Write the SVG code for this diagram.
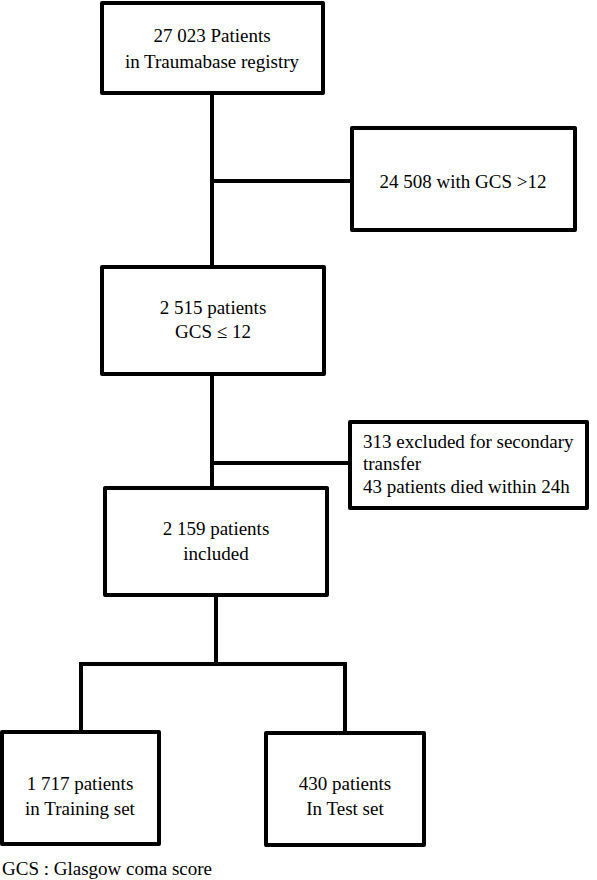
<svg xmlns="http://www.w3.org/2000/svg" width="597" height="880" viewBox="0 0 597 880">
<style>
.box{fill:#fff;stroke:#000;stroke-width:4;stroke-linejoin:round}
.ln{stroke:#000;stroke-width:4;fill:none;stroke-linecap:square}
text{font-family:"Liberation Serif","Times New Roman",serif;font-size:19px;fill:#000}
.c{text-anchor:middle}
</style>
<rect width="597" height="880" fill="#fff"/>
<g id="connectors">
<path class="ln" d="M212 93V488"/>
<path class="ln" d="M212 181H352"/>
<path class="ln" d="M212 463H350"/>
<path class="ln" d="M216 595V664"/>
<path class="ln" d="M81 664H345"/>
<path class="ln" d="M81 664V732"/>
<path class="ln" d="M345 664V733"/>
</g>
<g id="n1"><rect class="box" x="102" y="3" width="221" height="90"/>
<text class="c" x="212" y="42">27 023 Patients</text><text class="c" x="212" y="68">in Traumabase  registry</text></g>
<g id="n2"><rect class="box" x="352" y="128" width="223" height="102"/>
<text class="c" x="463" y="188">24 508  with GCS &gt;12</text></g>
<g id="n3"><rect class="box" x="102" y="267" width="222" height="107"/>
<text class="c" x="213" y="314">2 515 patients</text><text class="c" x="213" y="338">GCS ≤ 12</text></g>
<g id="n4"><rect class="box" x="105" y="488" width="222" height="107"/>
<text class="c" x="216" y="535">2 159 patients</text><text class="c" x="216" y="560">included</text></g>
<g id="n5"><rect class="box" x="350" y="422" width="237" height="86"/>
<text x="363" y="448">313  excluded for secondary</text><text x="363" y="470">transfer</text><text x="363" y="493">43 patients died within 24h</text></g>
<g id="n6"><rect class="box" x="2" y="732" width="157" height="112"/>
<text class="c" x="80" y="790">1 717 patients</text><text class="c" x="80" y="815">in Training  set</text></g>
<g id="n7"><rect class="box" x="266" y="733" width="158" height="112"/>
<text class="c" x="345" y="790">430 patients</text><text class="c" x="345" y="815">In Test set</text></g>
<text x="2" y="875">GCS : Glasgow  coma  score</text>
</svg>
